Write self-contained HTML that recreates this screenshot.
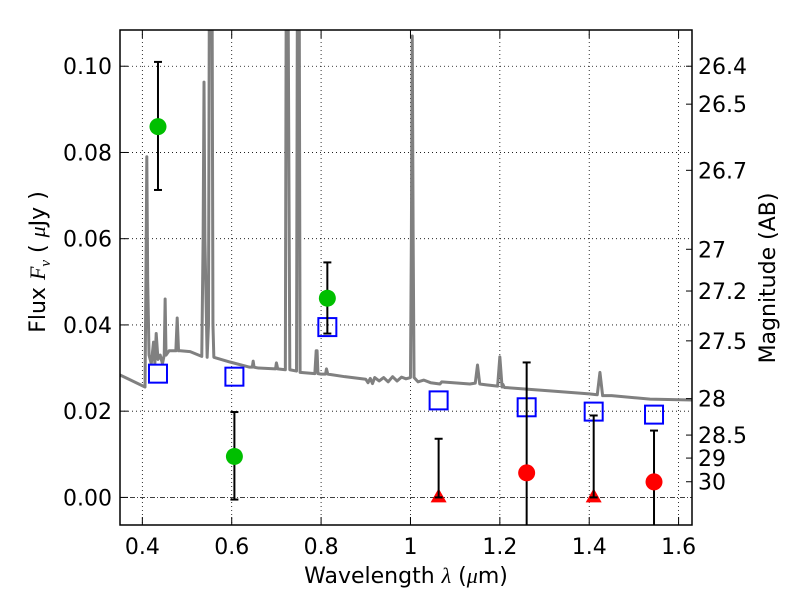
<!DOCTYPE html>
<html><head><meta charset="utf-8"><style>
body{margin:0;background:#fff}
svg text{font-family:"DejaVu Sans","Liberation Sans",sans-serif;fill:#000}
</style></head><body>
<svg id="chart" width="800" height="600" xmlns="http://www.w3.org/2000/svg"></svg>
<script>
const specWave=[0.35,0.406,0.408,0.410,0.412,0.415,0.42,0.425,0.428,0.431,0.435,0.44,0.445,0.449,0.451,0.453,0.46,0.475,0.478,0.481,0.485,0.507,0.533,0.536,0.538,0.54,0.545,0.548,0.550,0.552,0.554,0.556,0.558,0.56,0.596,0.64,0.646,0.648,0.650,0.66,0.698,0.700,0.703,0.72,0.722,0.724,0.726,0.73,0.745,0.747,0.749,0.751,0.753,0.786,0.789,0.791,0.793,0.80,0.81,0.812,0.815,0.853,0.90,0.905,0.91,0.915,0.92,0.93,0.94,0.95,0.96,0.97,0.98,0.99,1.0,1.002,1.004,1.006,1.008,1.017,1.03,1.045,1.066,1.07,1.133,1.145,1.15,1.155,1.17,1.195,1.2,1.205,1.207,1.21,1.312,1.40,1.418,1.424,1.43,1.45,1.536,1.63];
const specFlux=[0.0284,0.0256,0.05,0.079,0.05,0.033,0.031,0.036,0.031,0.038,0.032,0.033,0.031,0.033,0.046,0.033,0.034,0.034,0.0416,0.034,0.034,0.0338,0.0327,0.06,0.0963,0.06,0.0325,0.04,0.12,0.12,0.12,0.12,0.04,0.0325,0.0314,0.0302,0.0302,0.0316,0.0302,0.0300,0.0298,0.0312,0.0298,0.0296,0.12,0.12,0.12,0.0296,0.0293,0.12,0.12,0.12,0.029,0.0287,0.034,0.034,0.0287,0.0286,0.0286,0.0298,0.0286,0.028,0.0274,0.0266,0.0276,0.0264,0.0278,0.027,0.0278,0.0268,0.028,0.027,0.0279,0.0275,0.0278,0.06,0.107,0.06,0.0278,0.0268,0.0272,0.0266,0.0263,0.0268,0.0263,0.0265,0.0307,0.0263,0.0261,0.0258,0.0326,0.0256,0.0262,0.0255,0.0247,0.024,0.0238,0.029,0.0236,0.0236,0.0228,0.0226];
const greenWave=[0.435,0.606,0.814];
const greenFlux=[0.086,0.0095,0.0462];
const greenLo=[0.0713,-0.0005,0.038];
const greenHi=[0.101,0.0198,0.0545];
const blueWave=[0.435,0.606,0.814,1.063,1.26,1.41,1.545];
const blueFlux=[0.0287,0.028,0.0395,0.0225,0.0209,0.0199,0.0192];
const redTriWave=[1.063,1.41];
const redTriFlux=[0,0];
const redTriHi=[0.0136,0.019];
const redCircWave=[1.26,1.545];
const redCircFlux=[0.0057,0.0036];
const redCircLo=[-0.02,-0.02];
const redCircHi=[0.0313,0.0155];
const xTicks=[0.4,0.6,0.8,1.0,1.2,1.4,1.6];
const xTickLabels=["0.4","0.6","0.8","1","1.2","1.4","1.6"];
const yTicks=[0,0.02,0.04,0.06,0.08,0.10];
const yTickLabels=["0.00","0.02","0.04","0.06","0.08","0.10"];
const magTicks=[26.4,26.5,26.7,27,27.2,27.5,28,28.5,29,30];

const L=120,R=692,T=30,B=525,X0=0.35,X1=1.63,Y0=-0.0064,Y1=0.1084;
const sx=v=>L+(v-X0)/(X1-X0)*(R-L);
const sy=v=>B-(v-Y0)/(Y1-Y0)*(B-T);
const NS="http://www.w3.org/2000/svg";
const svg=document.getElementById('chart');
function mk(tag,at,parent){const e=document.createElementNS(NS,tag);for(const k in at)e.setAttribute(k,at[k]);(parent||svg).appendChild(e);return e;}
const defs=mk('defs',{});const cp=mk('clipPath',{id:'c'},defs);mk('rect',{x:L,y:T,width:R-L,height:B-T},cp);
const grid=mk('g',{'clip-path':'url(#c)'});

xTicks.forEach(v=>{mk('line',{x1:sx(v),x2:sx(v),y1:T,y2:B,stroke:'#000','stroke-width':0.8,'stroke-dasharray':'1,3'},grid);});
yTicks.forEach(v=>{if(v!==0)mk('line',{x1:L,x2:R,y1:sy(v),y2:sy(v),stroke:'#000','stroke-width':0.8,'stroke-dasharray':'1,3'},grid);});
const zl=mk('line',{x1:L,x2:R,y1:sy(0),y2:sy(0),stroke:'#000','stroke-width':0.8,'stroke-dasharray':'5,2,1,2'},grid);

const plot=mk('g',{'clip-path':'url(#c)'});
const spec=mk('polyline',{points:specWave.map((w,i)=>sx(w)+','+sy(specFlux[i])).join(' '),fill:'none',stroke:'#808080','stroke-width':3,'stroke-linejoin':'round'},plot);

function err(w,lo,hi,name){const g=mk('g',{stroke:'#000','stroke-width':2},plot);

const x=sx(w);mk('line',{x1:x,x2:x,y1:sy(lo),y2:sy(hi)},g);
mk('line',{x1:x-4,x2:x+4,y1:sy(hi),y2:sy(hi)},g);mk('line',{x1:x-4,x2:x+4,y1:sy(lo),y2:sy(lo)},g);}
blueWave.forEach((w,i)=>{const r=mk('rect',{x:sx(w)-9,y:sy(blueFlux[i])-9,width:18,height:18,fill:'none',stroke:'#0000ff','stroke-width':2},plot);
});
greenWave.forEach((w,i)=>{err(w,greenLo[i],greenHi[i],'green-error-bar');
const c=mk('circle',{cx:sx(w),cy:sy(greenFlux[i]),r:8.5,fill:'#00bf00'},plot);
});
redTriWave.forEach((w,i)=>{const x=sx(w),y=sy(redTriFlux[i]);
const p=mk('polygon',{points:`${x},${y-9} ${x-8},${y+5} ${x+8},${y+5}`,fill:'#ff0000'},plot);

err(w,redTriFlux[i],redTriHi[i],'red-limit-error-bar');});
redCircWave.forEach((w,i)=>{err(w,redCircLo[i],redCircHi[i],'red-error-bar');
const c=mk('circle',{cx:sx(w),cy:sy(redCircFlux[i]),r:8.5,fill:'#ff0000'},plot);
});
const frame=mk('rect',{x:L,y:T,width:R-L,height:B-T,fill:'none',stroke:'#000','stroke-width':1.5});

xTicks.forEach((v,i)=>{const x=sx(v);mk('line',{x1:x,x2:x,y1:B,y2:B-8,stroke:'#000'});mk('line',{x1:x,x2:x,y1:T,y2:T+8,stroke:'#000'});
const t=mk('text',{x:x,y:B+29,'font-size':22,'text-anchor':'middle'});t.textContent=xTickLabels[i];
});
yTicks.forEach((v,i)=>{const y=sy(v);mk('line',{x1:L,x2:L+8,y1:y,y2:y,stroke:'#000'});
const t=mk('text',{x:L-8,y:y+8,'font-size':22,'text-anchor':'end'});t.textContent=yTickLabels[i];
});
magTicks.forEach(m=>{const y=sy(Math.pow(10,-(m-23.9)/2.5));mk('line',{x1:R-6,x2:R,y1:y,y2:y,stroke:'#000'});
const t=mk('text',{x:R+6,y:y+8,'font-size':22});t.textContent=String(m);
});
let t=mk('text',{x:406,y:583,'font-size':22,'text-anchor':'middle'});
t.setAttribute('xml:space','preserve');
t.innerHTML='Wavelength  <tspan font-style="italic" font-family="Liberation Serif,serif">λ</tspan> (<tspan font-style="italic" font-family="Liberation Serif,serif">μ</tspan>m)';

t=mk('text',{x:0,y:0,'font-size':22,'text-anchor':'middle',transform:'translate(45,262) rotate(-90)'});
t.setAttribute('xml:space','preserve');
t.innerHTML='Flux  <tspan font-style="italic" font-family="Liberation Serif,serif">F</tspan><tspan font-size="15" dy="5" font-style="italic" font-family="Liberation Serif,serif">ν</tspan><tspan dy="-5">  (  </tspan><tspan font-style="italic" font-family="Liberation Serif,serif">μ</tspan>Jy )';

t=mk('text',{x:0,y:0,'font-size':22,'text-anchor':'middle',transform:'translate(775,278) rotate(-90)'});
t.textContent='Magnitude (AB)';

</script>
</body></html>
